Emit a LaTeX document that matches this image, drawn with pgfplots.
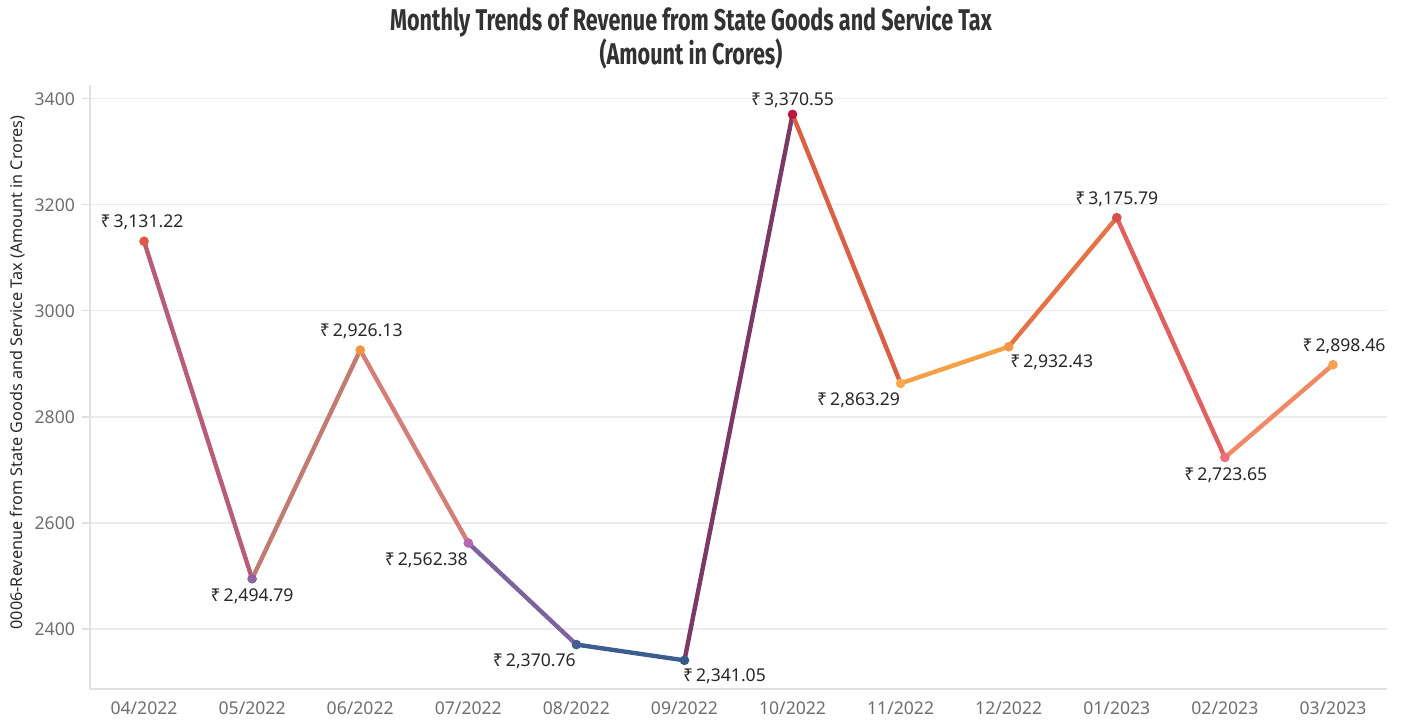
\documentclass[border=0pt]{standalone}
\usepackage{pgfplots}
\pgfplotsset{compat=1.18}
\usepackage{pgfplotstable}
\usepackage{fontspec}
\setmainfont{Noto Sans}
\newfontfamily\titlefont[FakeStretch=0.72]{Fira Sans}
\definecolor{tickgray}{RGB}{110,110,110}
\definecolor{gridgray}{RGB}{235,235,235}
\definecolor{axisgray}{RGB}{225,225,225}
\definecolor{labeldark}{RGB}{40,40,40}
\definecolor{titledark}{RGB}{50,50,50}

\pgfplotstableread{
idx val dx dy
0 3131.22 -1 9.75
1 2494.79 0 -8.6
2 2926.13 0.5 9.6
3 2562.38 -21 -8.5
4 2370.76 -21 -8.25
5 2341.05 20 -7.75
6 3370.55 0 7.2
7 2863.29 -21 -8.25
8 2932.43 21.5 -8
9 3175.79 0 9
10 2723.65 0.5 -8.75
11 2898.46 5.5 9
}\datatable

\begin{document}
\begin{tikzpicture}
\useasboundingbox (0,0) rectangle (703pt,360.5pt);
\node[align=center, font=\titlefont\bfseries\fontsize{15}{17}\selectfont, text=titledark] at (345.5pt,341.5pt) {Monthly Trends of Revenue from State Goods and Service Tax\\(Amount in Crores)};
\begin{axis}[
  at={(45pt,16pt)}, anchor=south west,
  scale only axis, width=648.5pt, height=302pt,
  xmin=-0.5, xmax=11.5, ymin=2287, ymax=3426,
  axis x line*=bottom, axis y line*=left,
  axis line style={draw=axisgray, line width=0.6pt, -},
  xtick={0,...,11},
  xticklabels={04/2022,05/2022,06/2022,07/2022,08/2022,09/2022,10/2022,11/2022,12/2022,01/2023,02/2023,03/2023},
  xtick style={draw=none},
  extra x ticks={-0.5,0.5,1.5,2.5,3.5,4.5,5.5,6.5,7.5,8.5,9.5,10.5,11.5},
  extra x tick labels={},
  extra x tick style={grid=none, tick style={draw=axisgray, line width=0.6pt}, major tick length=4pt, tick align=outside},
  xticklabel style={font=\fontsize{8.8}{10}\selectfont, text=tickgray, yshift=1pt},
  ytick={2400,2600,...,3400},
  ytick style={draw=axisgray, line width=0.6pt},
  major tick length=4pt, tick align=outside,
  yticklabel style={font=\fontsize{8.8}{10}\selectfont, text=tickgray},
  /pgf/number format/assume math mode=true,
  /pgf/number format/1000 sep={},
  ymajorgrids, major grid style={draw=gridgray, line width=0.6pt},
  ylabel={0006-Revenue from State Goods and Service Tax (Amount in Crores)},
  ylabel style={at={(axis description cs:-0.0555,0.524)}, anchor=center, font=\fontsize{8.1}{10}\selectfont, text=labeldark},
  colormap={ptcol}{rgb255=(226,88,70) rgb255=(143,98,165) rgb255=(240,150,65) rgb255=(182,104,172) rgb255=(68,94,145) rgb255=(55,92,140) rgb255=(190,22,65) rgb255=(246,170,72) rgb255=(241,150,70) rgb255=(218,80,70) rgb255=(236,112,122) rgb255=(244,162,78)},
  point meta min=0, point meta max=11,
  clip=false,
]
\addplot[mesh, shader=interp, line width=2.2pt, line cap=round, line join=round, point meta=explicit]
  table[x=idx, y=val, meta=idx] {\datatable};
\addplot[scatter, only marks, mark=*, mark size=2.2pt, point meta=explicit,
  scatter/use mapped color={draw=mapped color, fill=mapped color}]
  table[x=idx, y=val, meta=idx] {\datatable};
\addplot[only marks, mark=none, point meta=explicit,
  visualization depends on={\thisrow{dx} \as \dx},
  visualization depends on={\thisrow{dy} \as \dy},
  nodes near coords={₹\,\pgfmathprintnumber[fixed, fixed zerofill, precision=2, 1000 sep={,}]{\pgfplotspointmeta}},
  every node near coord/.append style={anchor=center, xshift=\dx pt, yshift=\dy pt, font=\fontsize{8.8}{10}\selectfont, text=labeldark, inner sep=0pt}]
  table[x=idx, y=val, meta=val] {\datatable};
\end{axis}
\end{tikzpicture}
\end{document}
